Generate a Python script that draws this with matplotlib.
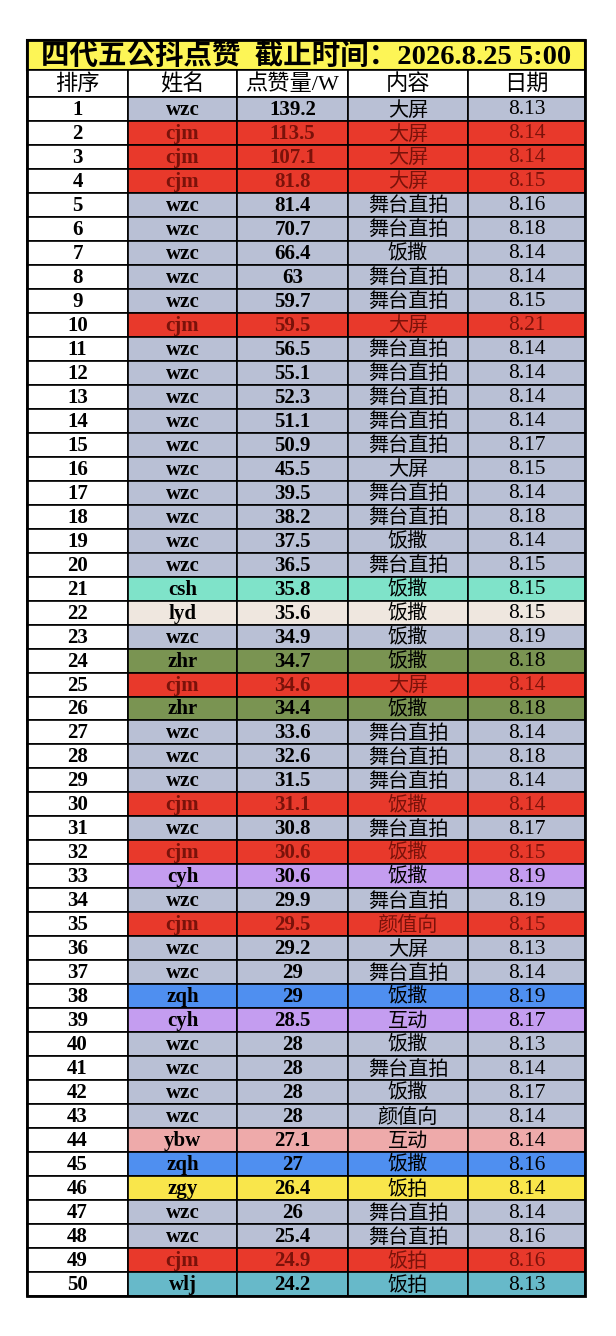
import matplotlib
matplotlib.use("Agg")
import matplotlib.pyplot as plt
from matplotlib.patches import Rectangle

names = ["wzc","cjm","cjm","cjm","wzc","wzc","wzc","wzc","wzc","cjm",
         "wzc","wzc","wzc","wzc","wzc","wzc","wzc","wzc","wzc","wzc",
         "csh","lyd","wzc","zhr","cjm","zhr","wzc","wzc","wzc","cjm",
         "wzc","cjm","cyh","wzc","cjm","wzc","wzc","zqh","cyh","wzc",
         "wzc","wzc","wzc","ybw","zqh","zgy","wzc","wzc","cjm","wlj"]
likes = ["139.2","113.5","107.1","81.8","81.4","70.7","66.4","63","59.7","59.5",
         "56.5","55.1","52.3","51.1","50.9","45.5","39.5","38.2","37.5","36.5",
         "35.8","35.6","34.9","34.7","34.6","34.4","33.6","32.6","31.5","31.1",
         "30.8","30.6","30.6","29.9","29.5","29.2","29","29","28.5","28",
         "28","28","28","27.1","27","26.4","26","25.4","24.9","24.2"]
content = ["大屏","大屏","大屏","大屏","舞台直拍","舞台直拍","饭撒","舞台直拍","舞台直拍","大屏",
           "舞台直拍","舞台直拍","舞台直拍","舞台直拍","舞台直拍","大屏","舞台直拍","舞台直拍","饭撒","舞台直拍",
           "饭撒","饭撒","饭撒","饭撒","大屏","饭撒","舞台直拍","舞台直拍","舞台直拍","饭撒",
           "舞台直拍","饭撒","饭撒","舞台直拍","颜值向","大屏","舞台直拍","饭撒","互动","饭撒",
           "舞台直拍","饭撒","颜值向","互动","饭撒","饭拍","舞台直拍","舞台直拍","饭拍","饭拍"]
dates = ["8.13","8.14","8.14","8.15","8.16","8.18","8.14","8.14","8.15","8.21",
         "8.14","8.14","8.14","8.14","8.17","8.15","8.14","8.18","8.14","8.15",
         "8.15","8.15","8.19","8.18","8.14","8.18","8.14","8.18","8.14","8.14",
         "8.17","8.15","8.19","8.19","8.15","8.13","8.14","8.19","8.17","8.13",
         "8.14","8.17","8.14","8.14","8.16","8.14","8.14","8.16","8.16","8.13"]
headers = ["排序","姓名","点赞量/W","内容","日期"]
title = "四代五公抖点赞  截止时间：2026.8.25 5:00"

colors = {"wzc":"#b9c0d5","cjm":"#e8392b","csh":"#7fe3c9","lyd":"#efe7df","zhr":"#7a9452",
          "cyh":"#c49df0","zqh":"#4f8ff0","ybw":"#eeaaaa","zgy":"#f9e64b","wlj":"#67b9c9"}
textc = {"cjm":"#7a120a"}

fig = plt.figure(figsize=(6.16,13.36), dpi=100)
ax = fig.add_axes([0,0,1,1])
ax.set_xlim(0,616); ax.set_ylim(1336,0); ax.axis("off")

xs = [27,128,237,348,468,585]
top, t2, t3, bot = 40, 70, 97, 1296
rh = (bot-t3)/50
serif = ["Liberation Serif","Noto Sans CJK SC"]
cjk = ["Noto Sans CJK SC","DejaVu Sans"]

ax.add_patch(Rectangle((xs[0],top),xs[-1]-xs[0],t2-top,fc="#fdf556",ec="black",lw=1.5))
ax.text((xs[0]+xs[-1])/2,(top+t2)/2+1,title,ha="center",va="center",fontsize=20.5,
        fontweight="bold",family=["Liberation Serif","Noto Sans CJK SC"])
for j,h in enumerate(headers):
    ax.add_patch(Rectangle((xs[j],t2),xs[j+1]-xs[j],t3-t2,fc="white",ec="black",lw=1.2))
    ax.text((xs[j]+xs[j+1])/2,(t2+t3)/2+1,h,ha="center",va="center",fontsize=16,family=serif)
for i in range(50):
    y = t3+i*rh
    nm = names[i]
    fc = colors[nm]; tc = textc.get(nm,"black")
    vals = [str(i+1),nm,likes[i],content[i],dates[i]]
    for j,v in enumerate(vals):
        ax.add_patch(Rectangle((xs[j],y),xs[j+1]-xs[j],rh,fc="white" if j==0 else fc,ec="black",lw=1.2))
        c = "black" if j==0 else tc
        cx, cy = (xs[j]+xs[j+1])/2, y+rh/2+1
        if j<=2:
            ax.text(cx,cy,v,ha="center",va="center",fontsize=15,
                    fontweight="bold",family=serif,color=c)
        elif j==3:
            ax.text(cx,cy,v,ha="center",va="center",fontsize=14.5,
                    family=cjk,color=c,fontweight="light")
        else:
            ax.text(cx,cy,v,ha="center",va="center",fontsize=15.5,
                    family=serif,color=c)
ax.add_patch(Rectangle((xs[0],top),xs[-1]-xs[0],bot-top,fc="none",ec="black",lw=2))
fig.savefig("out.png",dpi=100)
